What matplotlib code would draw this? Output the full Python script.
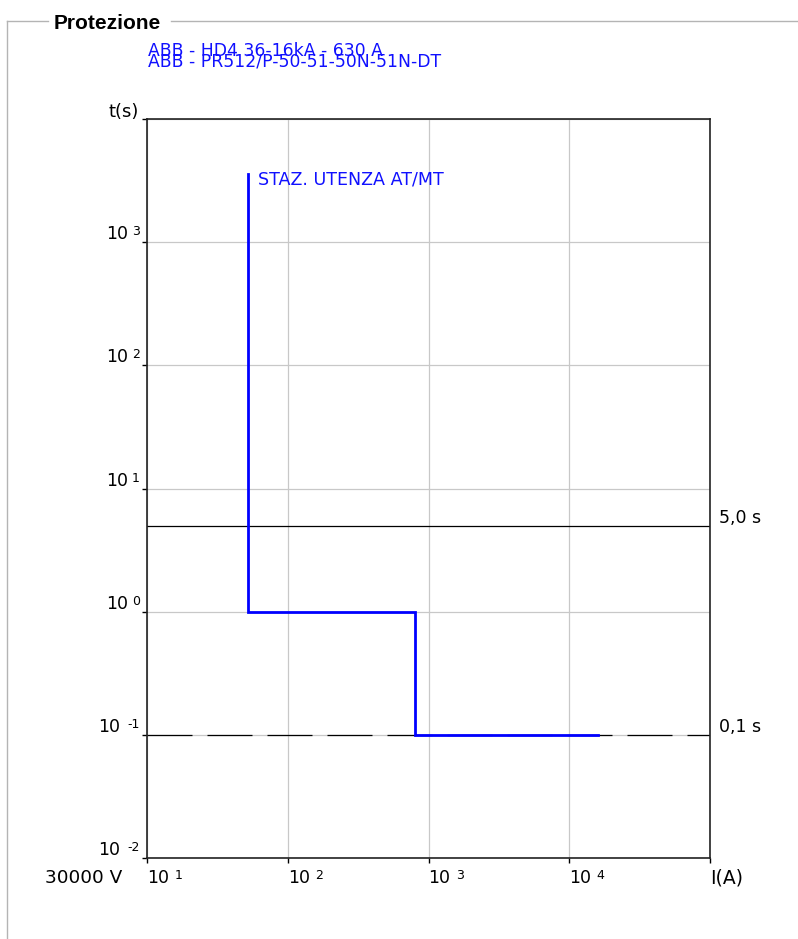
import matplotlib
matplotlib.use("Agg")
import matplotlib.pyplot as plt
from matplotlib.lines import Line2D

plt.rcParams['font.family'] = ['DejaVu Sans']

# ---- data ----
current_A = [52, 52, 800, 800, 16000]
time_s = [3600, 1.0, 1.0, 0.1, 0.1]
curve_label = "STAZ. UTENZA AT/MT"
header_lines = ["ABB - HD4 36-16kA - 630 A", "ABB - PR512/P-50-51-50N-51N-DT"]
x_decades = [1, 2, 3, 4]
y_decades = [-2, -1, 0, 1, 2, 3]
x_limits = [1e1, 1e5]
y_limits = [1e-2, 1e4]
ref_times = [5.0, 0.1]
ref_labels = ["5,0 s", "0,1 s"]
voltage_label = "30000 V"

W, H = 798, 939
fig = plt.figure(figsize=(W / 100, H / 100), dpi=100)

# axes placement (pixels)
L, R, T, B = 147, 710, 119, 858
ax = fig.add_axes([L / W, 1 - B / H, (R - L) / W, (B - T) / H])
ax.set_xscale('log')
ax.set_yscale('log')
ax.set_xlim(*x_limits)
ax.set_ylim(*y_limits)
ax.set_xticks([10.0 ** d for d in x_decades] + [x_limits[1]])
ax.set_yticks([10.0 ** d for d in y_decades] + [y_limits[1]])
ax.xaxis.set_minor_locator(matplotlib.ticker.NullLocator())
ax.yaxis.set_minor_locator(matplotlib.ticker.NullLocator())
ax.set_xticklabels([])
ax.set_yticklabels([])
ax.tick_params(direction='out', length=3.5, width=1.0, color='black')
ax.grid(True, which='major', color='#c8c8c8', linewidth=0.9, zorder=0)
for s in ax.spines.values():
    s.set_linewidth(1.2)
    s.set_color('#222222')

# reference lines
ax.axhline(ref_times[0], color='black', linewidth=0.9, zorder=2)
ax.plot(x_limits, [ref_times[1]] * 2, color='black', linewidth=0.9,
        dashes=(36, 12), zorder=2)

# curve
ax.plot(current_A, time_s, color='#0000ff', linewidth=2.0, zorder=3,
        solid_joinstyle='miter')
ax.annotate(curve_label, xy=(current_A[0], time_s[0]), xytext=(10, -11),
            textcoords='offset pixels', ha='left', va='baseline',
            color='#1010ff', fontsize=12.6)

fs = 12.5
efs = 9

# x tick labels
for d in x_decades:
    ax.annotate("10", xy=(10.0 ** d, 0), xycoords=('data', 'axes fraction'),
                xytext=(0, -25), textcoords='offset pixels',
                ha='left', va='baseline', fontsize=fs)
    ax.annotate(str(d), xy=(10.0 ** d, 0), xycoords=('data', 'axes fraction'),
                xytext=(27.5, -21), textcoords='offset pixels',
                ha='left', va='baseline', fontsize=efs)

fig.canvas.draw()
r = fig.canvas.get_renderer()
# y tick labels
for d in y_decades:
    e = ax.annotate(str(d), xy=(0, 10.0 ** d), xycoords=('axes fraction', 'data'),
                    xytext=(-7, 7), textcoords='offset pixels',
                    ha='right', va='baseline', fontsize=efs)
    w = e.get_window_extent(r).width
    gap = 4 if d >= 0 else 7
    ax.annotate("10", xy=(0, 10.0 ** d), xycoords=('axes fraction', 'data'),
                xytext=(-7 - w - gap, 3), textcoords='offset pixels',
                ha='right', va='baseline', fontsize=fs)

# axis titles
ax.annotate("t(s)", xy=(0, 1), xycoords='axes fraction', xytext=(-8, 2),
            textcoords='offset pixels', ha='right', va='baseline', fontsize=13)
ax.annotate("I(A)", xy=(1, 0), xycoords='axes fraction', xytext=(0, -25),
            textcoords='offset pixels', ha='left', va='baseline', fontsize=13.5)
ax.annotate(voltage_label, xy=(0, 0), xycoords='axes fraction', xytext=(-25, -25),
            textcoords='offset pixels', ha='right', va='baseline', fontsize=13.3)

# reference line labels
for t, lab in zip(ref_times, ref_labels):
    ax.annotate(lab, xy=(1, t), xycoords=('axes fraction', 'data'), xytext=(9, 3),
                textcoords='offset pixels', ha='left', va='baseline', fontsize=fs)

# header
fig.text(148 / W, 1 - 56 / H, header_lines[0], color='#1010ff', fontsize=12.4,
         ha='left', va='baseline')
fig.text(148 / W, 1 - 67 / H, header_lines[1], color='#1010ff', fontsize=12.4,
         ha='left', va='baseline')

# group frame
fc = '#b4b4b4'
fig.add_artist(Line2D([7 / W, 48 / W], [1 - 21 / H] * 2, color=fc, linewidth=1.0))
fig.add_artist(Line2D([171 / W, 1.0], [1 - 21 / H] * 2, color=fc, linewidth=1.0))
fig.add_artist(Line2D([7 / W] * 2, [1 - 21 / H, 0.0], color=fc, linewidth=1.0))
fig.text(54 / W, 1 - 29 / H, "Protezione", fontsize=15, fontweight='bold',
         family=['Liberation Sans', 'DejaVu Sans'], ha='left', va='baseline')

fig.savefig("out.png", dpi=100)
